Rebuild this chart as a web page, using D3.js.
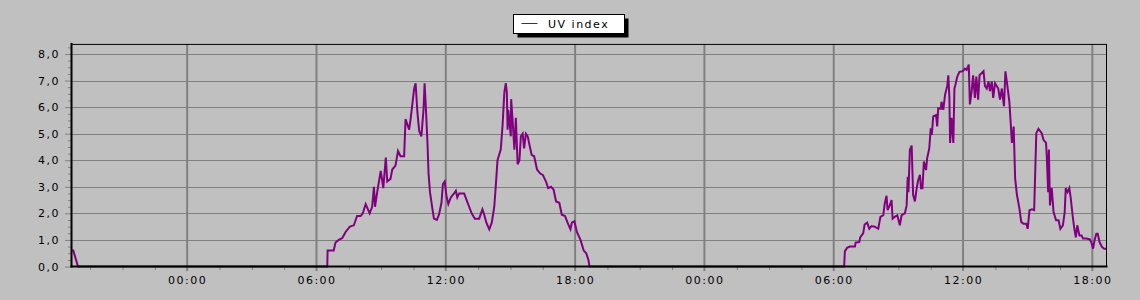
<!DOCTYPE html>
<html>
<head>
<meta charset="utf-8">
<script src="https://cdn.jsdelivr.net/npm/d3@7"></script>
<style>
  html, body { margin: 0; padding: 0; background: #c0c0c0; }
  svg { display: block; }
  text { font-family: 'DejaVu Sans', sans-serif; font-size: 11px; letter-spacing: 1.5px; fill: #000; }
</style>
</head>
<body>
<svg id="chart" width="1140" height="300"></svg>
<script>
const seriesName = 'UV index'
const dayDates = ['2009-06-14', '2009-06-15', '2009-06-16']
const viewStart = '2009-06-14 18:38'
const viewEnd = '2009-06-16 18:38'
const yTickValues = [0, 1, 2, 3, 4, 5, 6, 7, 8]
const yTop = 8.38

// tail of the first evening
const eveningTimes = ['18:38', '18:43', '18:56']
const eveningValues = [0.6, 0.6, 0]

const day1Times = [
  '06:30', '06:31', '06:48', '06:53', '07:02', '07:12', '07:21', '07:33', '07:44', '07:53',
  '08:03', '08:09', '08:17', '08:28', '08:35', '08:40', '08:43', '08:49', '08:59', '09:06',
  '09:13', '09:17', '09:26', '09:31', '09:40', '09:47', '09:54', '10:04', '10:08', '10:18',
  '10:22', '10:32', '10:36', '10:41', '10:46', '10:52', '10:58', '11:01', '11:05', '11:09',
  '11:12', '11:16', '11:23', '11:27', '11:35', '11:41', '11:48', '11:52', '11:57', '12:02',
  '12:07', '12:14', '12:23', '12:28', '12:32', '12:37', '12:51', '12:58', '13:05', '13:12',
  '13:21', '13:33', '13:42', '13:47', '13:53', '14:01', '14:08', '14:15', '14:19', '14:24',
  '14:33', '14:38', '14:43', '14:47', '14:50', '14:52', '14:54', '15:01', '15:02', '15:06',
  '15:11', '15:15', '15:20', '15:25', '15:29', '15:34', '15:38', '15:43', '15:48', '15:55',
  '15:59', '16:06', '16:14', '16:23', '16:30', '16:39', '16:45', '16:53', '17:00', '17:07',
  '17:16', '17:23', '17:32', '17:39', '17:47', '17:51', '17:58', '18:05', '18:15', '18:24',
  '18:31', '18:37', '18:40'
]
const day1Values = [
  0, 0.6, 0.6, 0.9, 1.0, 1.07, 1.3, 1.5, 1.55, 1.9,
  1.9, 2.0, 2.35, 2.0, 2.25, 3.0, 2.25, 2.8, 3.6, 2.95,
  4.1, 3.2, 3.3, 3.65, 3.8, 4.35, 4.15, 4.15, 5.55, 5.15,
  5.55, 6.7, 6.9, 5.8, 5.1, 4.9, 5.9, 6.9, 5.85, 4.65,
  3.5, 2.8, 2.15, 1.8, 1.75, 1.95, 2.4, 3.1, 3.2, 2.65,
  2.35, 2.6, 2.75, 2.85, 2.6, 2.75, 2.75, 2.5, 2.25, 2.0,
  1.8, 1.8, 2.15, 1.95, 1.65, 1.4, 1.65, 2.25, 3.0, 4.0,
  4.4, 5.3, 6.55, 6.9, 6.55, 5.15, 5.9, 4.9, 6.3, 5.5,
  4.4, 5.6, 3.85, 4.0, 4.9, 5.0, 4.45, 5.0, 4.9, 4.45,
  4.2, 4.15, 3.65, 3.5, 3.45, 3.2, 2.95, 3.0, 2.9, 2.45,
  2.4, 1.95, 1.9, 1.65, 1.4, 1.65, 1.7, 1.3, 1.0, 0.6,
  0.5, 0.25, 0
]

const day2Times = [
  '06:29', '06:31', '06:37', '06:45', '06:59', '07:01', '07:11', '07:14', '07:22', '07:26',
  '07:33', '07:39', '07:45', '07:54', '08:04', '08:10', '08:18', '08:22', '08:27', '08:30',
  '08:36', '08:41', '08:44', '08:50', '08:57', '09:04', '09:09', '09:18', '09:23', '09:26',
  '09:28', '09:32', '09:37', '09:41', '09:46', '09:51', '09:55', '10:00', '10:03', '10:07',
  '10:11', '10:17', '10:20', '10:26', '10:30', '10:33', '10:37', '10:45', '10:48', '10:51',
  '10:58', '11:00', '11:05', '11:10', '11:16', '11:19', '11:22', '11:24', '11:28', '11:33',
  '11:36', '11:39', '11:44', '11:50', '11:59', '12:05', '12:10', '12:16', '12:19', '12:24',
  '12:28', '12:33', '12:37', '12:42', '12:46', '12:57', '13:01', '13:06', '13:11', '13:15',
  '13:20', '13:24', '13:29', '13:38', '13:43', '13:48', '13:54', '13:58', '14:03', '14:09',
  '14:13', '14:16', '14:21', '14:25', '14:30', '14:37', '14:42', '14:48', '14:56', '15:00',
  '15:05', '15:12', '15:18', '15:24', '15:30', '15:39', '15:44', '15:51', '15:53', '15:57',
  '15:59', '16:02', '16:07', '16:12', '16:19', '16:26', '16:31', '16:38', '16:43', '16:46',
  '16:51', '16:56', '17:00', '17:05', '17:09', '17:14', '17:18', '17:24', '17:30', '17:34',
  '17:44', '17:53', '17:57', '18:02', '18:06', '18:11', '18:15', '18:20', '18:27', '18:33',
  '18:38'
]
const day2Values = [
  0, 0.57, 0.7, 0.75, 0.75, 0.9, 0.92, 1.1, 1.25, 1.58,
  1.65, 1.42, 1.52, 1.5, 1.42, 1.87, 1.93, 2.37, 2.66, 2.12,
  2.3, 2.5, 1.8, 1.87, 1.93, 1.55, 1.93, 2.0, 2.3, 3.38,
  2.8, 4.4, 4.55, 2.7, 2.45, 2.95, 3.25, 3.45, 2.95, 2.95,
  3.95, 3.63, 4.07, 4.45, 5.2, 4.95, 5.65, 5.7, 5.27, 5.96,
  5.94, 6.2, 5.9, 6.47, 6.8, 7.2, 6.35, 4.65, 5.6, 4.65,
  6.7, 6.85, 7.15, 7.33, 7.35, 7.45, 7.4, 7.6, 6.1, 6.6,
  7.2, 6.35, 7.15, 6.28, 7.2, 7.35, 6.8, 6.7, 6.97, 6.6,
  6.97, 6.35, 6.9, 6.7, 6.28, 6.7, 6.03, 7.35, 6.85, 6.2,
  5.33, 4.65, 5.27, 3.32, 2.7, 2.18, 1.68, 1.61, 1.61, 1.42,
  2.12, 2.15, 2.12, 5.02, 5.18, 5.02, 4.77, 4.65, 4.2, 2.8,
  4.4, 2.3, 2.95, 2.05, 1.74, 1.74, 1.42, 1.55, 2.05, 2.95,
  2.8, 2.95, 2.56, 1.93, 1.5, 1.1, 1.55, 1.17, 1.17, 1.05,
  1.05, 1.02, 0.92, 0.67, 0.98, 1.23, 1.23, 0.92, 0.73, 0.67,
  0.67
]

const parseTime = d3.timeParse('%Y-%m-%d %H:%M')
const comma = d3.formatLocale({ decimal: ',', thousands: '.', grouping: [3], currency: ['', ''] }).format('.1f')

const toPoints = (date, times, values) => times.map((t, i) => ({
  time: parseTime(`${date} ${t}`),
  value: values[i]
}))

const data = [
  ...toPoints(dayDates[0], eveningTimes, eveningValues),
  ...toPoints(dayDates[1], day1Times, day1Values),
  ...toPoints(dayDates[2], day2Times, day2Values)
]

const margin = { top: 44, right: 34, bottom: 33.5, left: 71.5 }
const width = 1140
const height = 300
const svg = d3.select('#chart')

const x = d3.scaleTime()
  .domain([parseTime(viewStart), parseTime(viewEnd)])
  .range([margin.left, width - margin.right])

const y = d3.scaleLinear()
  .domain([0, yTop])
  .range([height - margin.bottom, height - margin.bottom - yTop * 26.5625])

const majorX = x.ticks(d3.timeHour.every(6))
const minorX = d3.timeMinute.every(30).range(...x.domain())
  .filter(d => (d.getHours() * 60 + d.getMinutes()) % 90 === 0)
  .filter(d => d.getHours() % 6 !== 0 || d.getMinutes() !== 0)
const minorY = d3.range(0.25, yTop, 0.25).filter(v => v % 1 !== 0)

const gridColor = '#808080'
const y0 = y(0)
const yMaxPx = y(yTop)

// horizontal grid
svg.append('g')
  .selectAll('line')
  .data(yTickValues.filter(v => v > 0))
  .enter()
  .append('line')
  .attr('x1', margin.left)
  .attr('x2', width - margin.right + 1)
  .attr('y1', d => Math.round(y(d)) + 0.5)
  .attr('y2', d => Math.round(y(d)) + 0.5)
  .attr('stroke', gridColor)
  .attr('stroke-width', 1)

// vertical grid
svg.append('g')
  .selectAll('line')
  .data(majorX)
  .enter()
  .append('line')
  .attr('x1', d => x(d))
  .attr('x2', d => x(d))
  .attr('y1', yMaxPx)
  .attr('y2', y0 + 4.5)
  .attr('stroke', gridColor)
  .attr('stroke-width', 2)

// minor ticks
svg.append('g')
  .attr('transform', `translate(0,${y0})`)
  .call(d3.axisBottom(x).tickValues(minorX).tickSize(3.5).tickFormat(''))
  .call(g => g.select('.domain').remove())
  .call(g => g.selectAll('.tick line').attr('stroke', gridColor))

svg.append('g')
  .attr('transform', `translate(${margin.left},0)`)
  .call(d3.axisLeft(y).tickValues(minorY).tickSize(3.5).tickFormat(''))
  .call(g => g.select('.domain').remove())
  .call(g => g.selectAll('.tick line').attr('stroke', gridColor))

// the series
const line = d3.line()
  .x(d => x(d.time))
  .y(d => y(d.value))

svg.append('path')
  .datum(data)
  .attr('fill', 'none')
  .attr('stroke', '#800080')
  .attr('stroke-width', 2)
  .attr('stroke-linejoin', 'miter')
  .attr('d', line)

// axes
svg.append('g')
  .attr('transform', `translate(${margin.left},0)`)
  .call(d3.axisLeft(y).tickValues(yTickValues).tickSize(6.5).tickPadding(5).tickFormat(comma))
  .call(g => g.select('.domain').remove())
  .call(g => g.selectAll('.tick line').attr('stroke', gridColor))
  .call(g => g.selectAll('.tick text').attr('fill', '#000').style('font-family', null).style('font-size', null)
    .attr('font-family', null).attr('font-size', null))

svg.append('g')
  .attr('transform', `translate(0,${y0})`)
  .call(d3.axisBottom(x).tickValues(majorX).tickSize(0).tickFormat(d3.timeFormat('%H:%M')))
  .call(g => g.select('.domain').remove())
  .call(g => g.selectAll('.tick text').attr('y', 9.7).attr('fill', '#000')
    .attr('font-family', null).attr('font-size', null))

svg.selectAll('g').attr('font-family', null).attr('font-size', null)

// frame
svg.append('line')
  .attr('x1', margin.left).attr('x2', width - margin.right + 0.5)
  .attr('y1', yMaxPx + 0.5).attr('y2', yMaxPx + 0.5)
  .attr('stroke', '#000').attr('stroke-width', 1)
svg.append('line')
  .attr('x1', width - margin.right + 0.5).attr('x2', width - margin.right + 0.5)
  .attr('y1', yMaxPx).attr('y2', y0)
  .attr('stroke', '#000').attr('stroke-width', 1)
svg.append('line')
  .attr('x1', margin.left).attr('x2', margin.left)
  .attr('y1', yMaxPx - 1).attr('y2', y0 + 1)
  .attr('stroke', '#000').attr('stroke-width', 2)
svg.append('line')
  .attr('x1', margin.left - 1).attr('x2', width - margin.right + 1.5)
  .attr('y1', y0).attr('y2', y0)
  .attr('stroke', '#000').attr('stroke-width', 2)

// legend
const legend = svg.append('g').attr('transform', 'translate(513.5,14.5)')
legend.append('rect')
  .attr('x', 4).attr('y', 4).attr('width', 111).attr('height', 19)
  .attr('fill', '#000')
legend.append('rect')
  .attr('width', 111).attr('height', 19)
  .attr('fill', '#fff').attr('stroke', '#000').attr('stroke-width', 1)
legend.append('line')
  .attr('x1', 8).attr('x2', 24)
  .attr('y1', 9).attr('y2', 9)
  .attr('stroke', '#800080').attr('stroke-width', 1)
legend.append('text')
  .attr('x', 34.5).attr('y', 13.5)
  .text(seriesName)
</script>
</body>
</html>
